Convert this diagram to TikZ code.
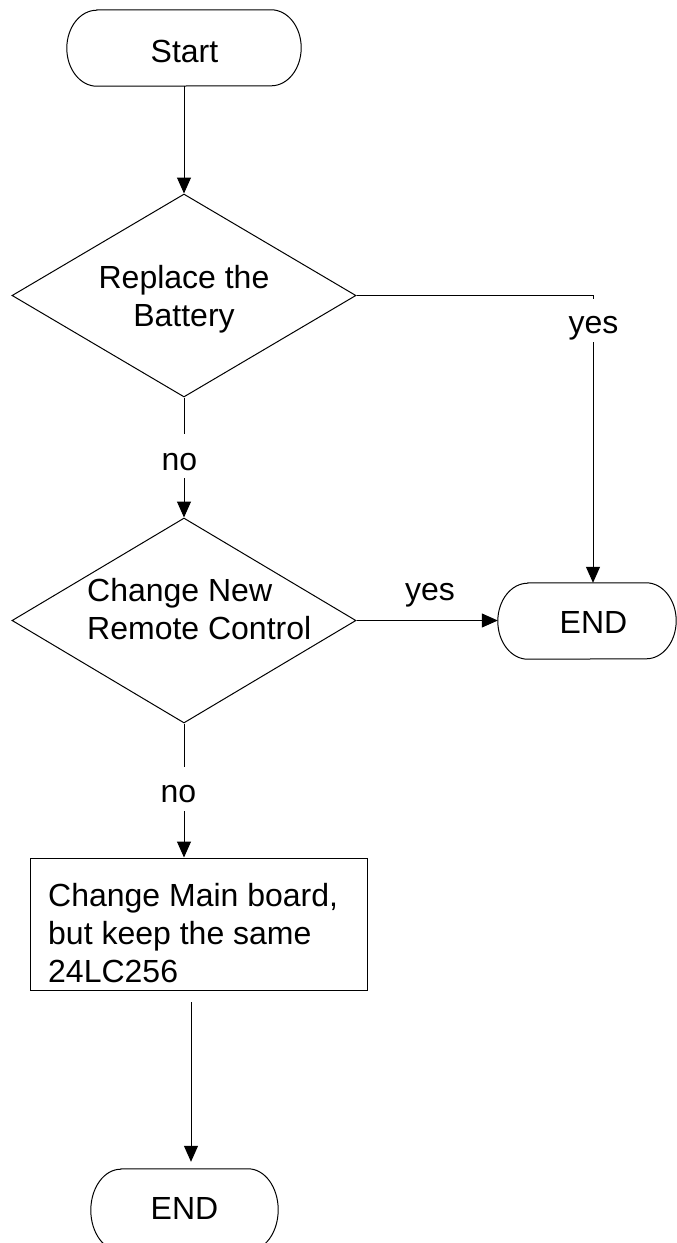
\documentclass[tikz,border=0pt]{standalone}
\usepackage{fontspec}
\setmainfont{Liberation Sans}
\usetikzlibrary{arrows.meta,shapes.geometric}
\newcommand\termoutline[2]{%
  \draw[line width=1pt] ([xshift=30pt]#1.north west) -- ([xshift=-30pt]#1.north east)
    arc[start angle=90,end angle=-90,x radius=30pt,y radius=#2]
    -- ([xshift=30pt]#1.south west)
    arc[start angle=270,end angle=90,x radius=30pt,y radius=#2] -- cycle;}
\tikzset{
  lbl/.style={font=\fontsize{32}{38}\selectfont, inner sep=0pt},
  term/.style={inner sep=0pt, draw=none},
  dec/.style={diamond, draw, line width=1pt, inner sep=0pt, aspect=1.7},
  proc/.style={rectangle, draw, line width=1pt, inner sep=0pt},
  conn/.style={line width=1pt},
  arr/.style={line width=1pt, -{Triangle[length=16pt,width=14pt]}}
}
\begin{document}
\begin{tikzpicture}[x=1pt,y=1pt]
\useasboundingbox (0,0) rectangle (677,-1243);
% terminals
\node[term, minimum width=234pt, minimum height=76pt] (start) at (184,-48) {};
\termoutline{start}{38pt}
\node[lbl, anchor=base] (starttxt) at (184.5,-62) {Start};

\node[term, minimum width=178pt, minimum height=76pt] (end1) at (587,-621) {};
\termoutline{end1}{38pt}
\node[lbl, anchor=base] (end1txt) at (593.5,-633) {END};

\node[term, minimum width=187pt, minimum height=82pt] (end2) at (184.5,-1210) {};
\termoutline{end2}{41pt}
\node[lbl, anchor=base] (end2txt) at (184.5,-1219) {END};

% decisions
\node[dec, minimum width=344pt, minimum height=203pt] (d1) at (184,-295.5) {};
\node[lbl, anchor=base, align=center] (d1txt) at (184,-326) {Replace the\\Battery};

\node[dec, minimum width=344pt, minimum height=205pt] (d2) at (184,-620.5) {};
\node[lbl, anchor=base west, align=left] (d2txt) at (87,-639) {Change New\\Remote Control};

% process
\node[proc, minimum width=337pt, minimum height=132pt] (box) at (198.5,-924) {};
\node[lbl, anchor=base west, align=left] (boxtxt) at (48,-982) {Change Main board,\\but keep the same\\24LC256};

% labels
\node[lbl, anchor=base] (no1) at (179.5,-470) {no};
\node[lbl, anchor=base] (no2) at (178.5,-802) {no};
\node[lbl, anchor=base] (yes1) at (593.5,-333) {yes};
\node[lbl, anchor=base] (yes2) at (430,-600) {yes};

% coordinates for broken connectors
\coordinate (c1a) at (184,-434);
\coordinate (c1b) at (184,-478);
\coordinate (c2a) at (184,-767);
\coordinate (c2b) at (184,-811);
\coordinate (c3a) at (593,-294);
\coordinate (c3b) at (593,-299);
\coordinate (c3c) at (593,-342);
\coordinate (c4a) at (191,-1002);

% connectors
\draw[arr] (start.south) -- (d1.north);
\draw[conn] (d1.south) -- (c1a);
\draw[arr] (c1b) -- (d2.north);
\draw[conn] (d2.south) -- (c2a);
\draw[arr] (c2b) -- (c2b |- box.north);
\draw[conn] (d1.east) -- (d1.east -| c3a) -- (c3b);
\draw[arr] (c3c) -- (c3c |- end1.north);
\draw[arr] (d2.east) -- (d2.east -| end1.west);
\draw[arr] (c4a) -- ([yshift=7pt]c4a |- end2.north);
\end{tikzpicture}
\end{document}
